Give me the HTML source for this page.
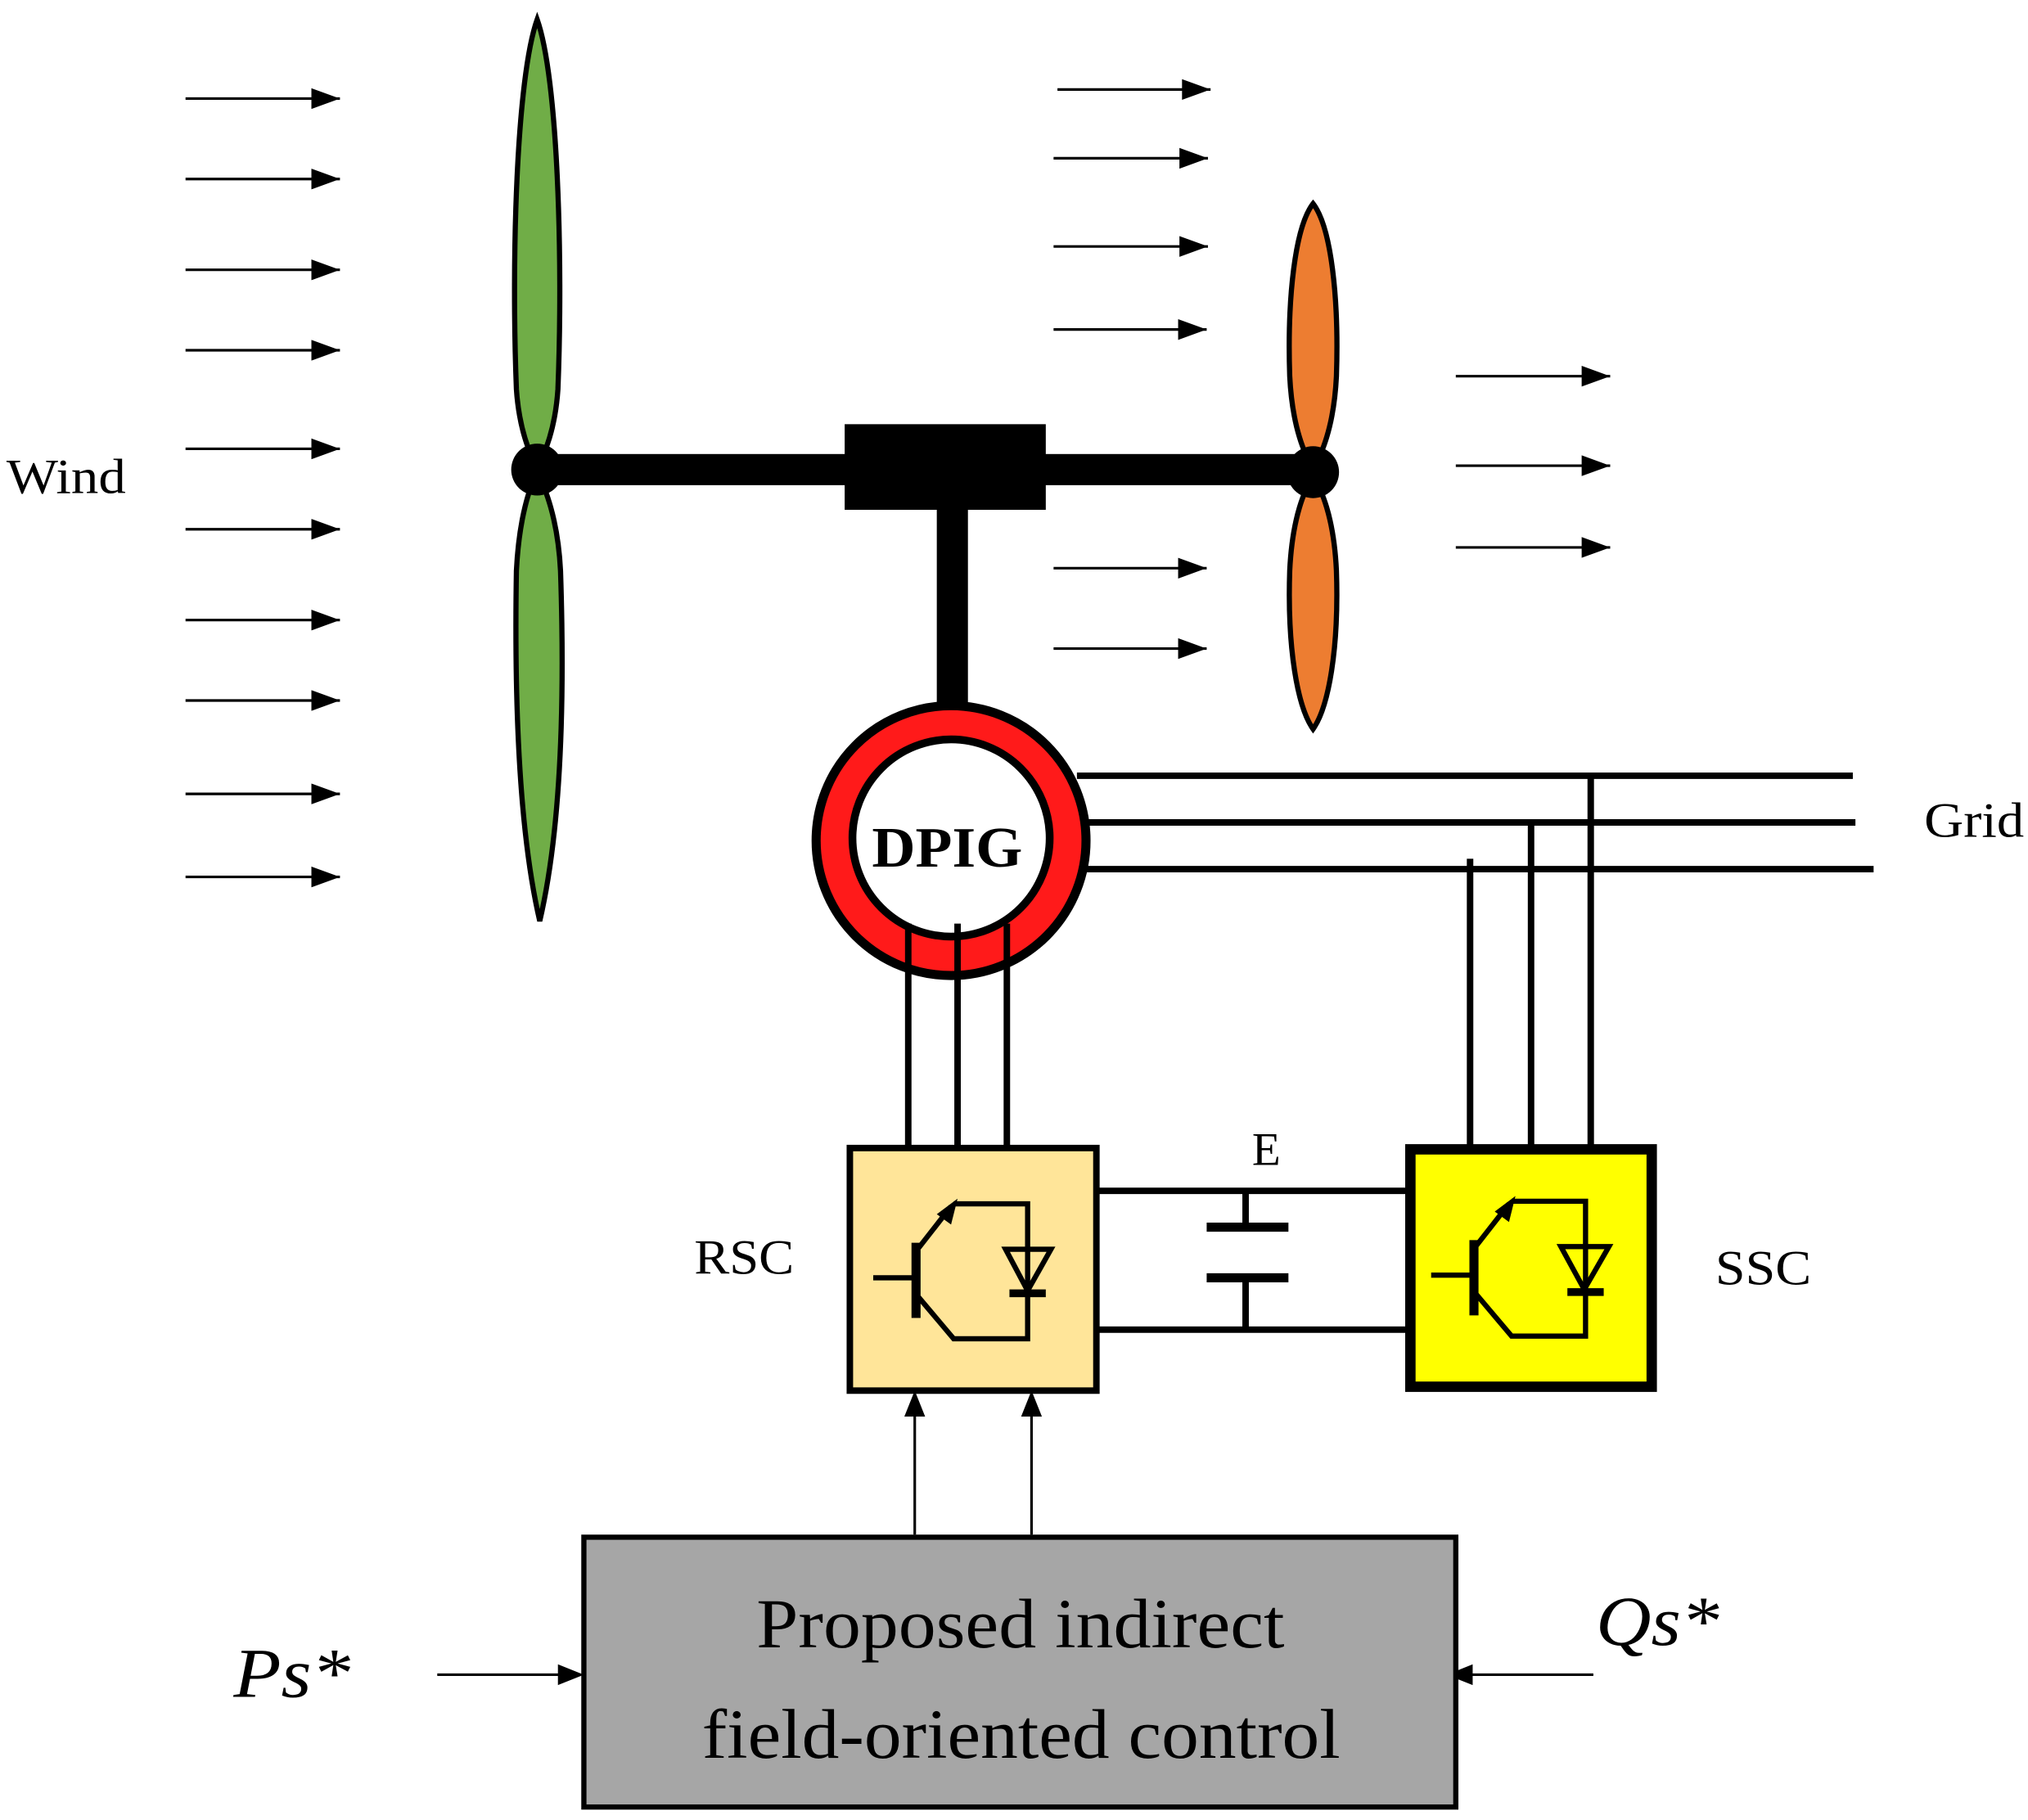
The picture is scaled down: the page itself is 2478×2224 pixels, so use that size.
<!DOCTYPE html>
<html><head><meta charset="utf-8"><style>html,body{margin:0;padding:0;background:#fff}svg{display:block}</style></head>
<body>
<svg width="2478" height="2224" viewBox="0 0 1563 1403" preserveAspectRatio="none" xmlns="http://www.w3.org/2000/svg" font-family="Liberation Serif, serif">
<rect width="1563" height="1403" fill="#fff"/>
<g stroke="#000" stroke-width="2">
<path d="M143 76H262M143 138H262M143 208H262M143 270H262M143 346H262M143 408H262M143 478H262M143 540H262M143 612H262M143 676H262"/>
<path d="M815 69H933M812 122H931M812 190H931M812 254H930M812 438H930M812 500H930"/>
<path d="M1122 290H1241M1122 359H1241M1122 422H1241"/>
</g>
<g fill="#000">
<path d="M262 76l-22-8v16zM262 138l-22-8v16zM262 208l-22-8v16zM262 270l-22-8v16zM262 346l-22-8v16zM262 408l-22-8v16zM262 478l-22-8v16zM262 540l-22-8v16zM262 612l-22-8v16zM262 676l-22-8v16z"/>
<path d="M933 69l-22-8v16zM931 122l-22-8v16zM931 190l-22-8v16zM930 254l-22-8v16zM930 438l-22-8v16zM930 500l-22-8v16z"/>
<path d="M1241 290l-22-8v16zM1241 359l-22-8v16zM1241 422l-22-8v16z"/>
</g>
<text x="5" y="380" font-size="38" textLength="92" lengthAdjust="spacingAndGlyphs">Wind</text>
<path d="M414 15 C430 60 434 200 430 300 C428 330 420 350 414 360 C408 350 400 330 398 300 C394 200 398 60 414 15z" fill="#70ad47" stroke="#000" stroke-width="4"/>
<path d="M414 365 C420 375 430 400 432 440 C436 560 430 650 416 710 C402 650 396 560 398 440 C400 400 408 375 414 365z" fill="#70ad47" stroke="#000" stroke-width="4"/>
<path d="M1012 157 C1026 175 1032 230 1030 290 C1028 330 1018 352 1012 360 C1006 352 996 330 994 290 C992 230 998 175 1012 157z" fill="#ed7d31" stroke="#000" stroke-width="4"/>
<path d="M1012 368 C1018 376 1028 398 1030 440 C1032 500 1024 545 1012 562 C1000 545 992 500 994 440 C996 398 1006 376 1012 368z" fill="#ed7d31" stroke="#000" stroke-width="4"/>
<rect x="414" y="350" width="598" height="24" fill="#000"/>
<rect x="651" y="327" width="155" height="66" fill="#000"/>
<rect x="722" y="390" width="24" height="160" fill="#000"/>
<circle cx="414" cy="362" r="20" fill="#000"/>
<circle cx="1012" cy="364" r="20" fill="#000"/>
<g stroke="#000" stroke-width="5" fill="none">
<path d="M830 598H1428M835 634H1430M835 670H1444"/>
<path d="M1226 598V884M1180 634V884M1133 662V884"/>
</g>
<circle cx="733" cy="648" r="104" fill="#ff1a1a" stroke="#000" stroke-width="7"/>
<circle cx="733" cy="646" r="76" fill="#fff" stroke="#000" stroke-width="6"/>
<g stroke="#000" stroke-width="5"><path d="M700 712V884M738 712V884M776 712V884"/></g>
<text x="672" y="668" font-size="44" font-weight="bold" textLength="116" lengthAdjust="spacingAndGlyphs">DPIG</text>
<text x="1483" y="645" font-size="38" textLength="77" lengthAdjust="spacingAndGlyphs">Grid</text>
<g stroke="#000" stroke-width="5" fill="none">
<path d="M838 918H1088M845 1025H1092"/>
<path d="M960 918V945M960 985V1025"/>
<path d="M930 946H993M930 985H993" stroke-width="7"/>
</g>
<text x="965" y="898" font-size="36">E</text>
<rect x="655" y="885" width="190" height="187" fill="#ffe599" stroke="#000" stroke-width="5"/>
<g stroke="#000" stroke-width="4" fill="none">
<path d="M673 985H705"/><path d="M706 958V1016" stroke-width="7"/>
<path d="M708 962L733 930"/><path d="M735 928H792V1032H735L708 1000"/>
<path d="M775 963H810L792 995Z"/><path d="M778 997H806" stroke-width="6"/>
</g>
<path d="M738 924L722 936L733 944Z" fill="#000"/>
<text x="535" y="982" font-size="38" textLength="77" lengthAdjust="spacingAndGlyphs">RSC</text>
<rect x="1087" y="886" width="186" height="183" fill="#ffff00" stroke="#000" stroke-width="8"/>
<g stroke="#000" stroke-width="4" fill="none">
<path d="M1103 983H1135"/><path d="M1136 956V1014" stroke-width="7"/>
<path d="M1138 960L1163 928"/><path d="M1165 926H1222V1030H1165L1138 998"/>
<path d="M1203 961H1240L1221 994Z"/><path d="M1208 996H1236" stroke-width="6"/>
</g>
<path d="M1168 922L1152 934L1163 942Z" fill="#000"/>
<text x="1322" y="990" font-size="38" textLength="74" lengthAdjust="spacingAndGlyphs">SSC</text>
<g stroke="#000" stroke-width="2"><path d="M705 1183V1090M795 1183V1090M337 1291H432M1228 1291H1133"/></g>
<g fill="#000">
<path d="M705 1072l-8 20h16zM795 1072l-8 20h16zM450 1291l-20-8v16zM1115 1291l20-8v16z"/>
</g>
<rect x="450" y="1185" width="672" height="208" fill="#a6a6a6" stroke="#000" stroke-width="4"/>
<text x="583" y="1270" font-size="54" textLength="407" lengthAdjust="spacingAndGlyphs">Proposed indirect</text>
<text x="541" y="1355" font-size="54" textLength="492" lengthAdjust="spacingAndGlyphs">field-oriented control</text>
<text x="180" y="1308" font-size="54" font-style="italic" textLength="90" lengthAdjust="spacingAndGlyphs">Ps*</text>
<text x="1230" y="1268" font-size="54" font-style="italic" textLength="95" lengthAdjust="spacingAndGlyphs">Qs*</text>
</svg>
</body></html>
